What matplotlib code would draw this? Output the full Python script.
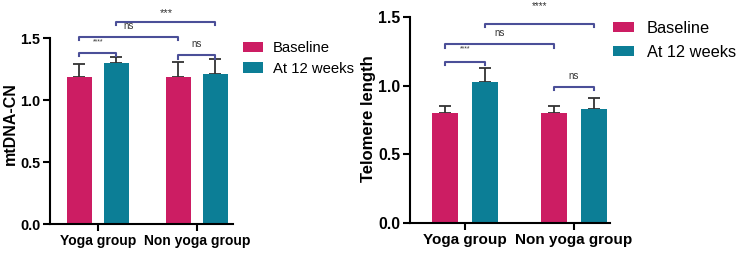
import matplotlib.pyplot as plt
import numpy as np

plt.rcParams['font.family'] = ['Liberation Sans', 'DejaVu Sans']

groups = ['Yoga group', 'Non yoga group']
series = ['Baseline', 'At 12 weeks']
colors = ['#CC1D63', '#0C7E96']

# mtDNA-CN
mt_base = [1.19, 1.19]
mt_base_err = [0.10, 0.12]
mt_w12 = [1.30, 1.21]
mt_w12_err = [0.05, 0.12]

# Telomere length
tl_base = [0.80, 0.80]
tl_base_err = [0.05, 0.05]
tl_w12 = [1.03, 0.83]
tl_w12_err = [0.10, 0.08]

# brackets: (bar i, bar j, height, label, label size, label offset)
# bars 0..3 = Yoga-base, Yoga-12w, Non-base, Non-12w
mt_brackets = [(0, 1, 1.38, '****', 5, 0.09), (0, 2, 1.51, 'ns', 7, 0.09),
               (1, 3, 1.63, '***', 8, 0.07), (2, 3, 1.36, 'ns', 7, 0.09)]
tl_brackets = [(0, 1, 1.175, '****', 5, 0.09), (0, 2, 1.30, 'ns', 7, 0.08),
               (1, 3, 1.45, '****', 7, 0.13), (2, 3, 0.99, 'ns', 7, 0.08)]

bracket_col = '#4B4F98'


def draw_panel(ax, base, base_err, w12, w12_err, brackets, ylabel, off, width, xlim,
               xtfs, ytfs, ylsize, ylpos):
    x = np.arange(len(groups))
    ax.bar(x - off, base, width, color=colors[0], label=series[0], zorder=2)
    ax.bar(x + off, w12, width, color=colors[1], label=series[1], zorder=2)
    ax.errorbar(x - off, base, yerr=[np.zeros(2), base_err], fmt='none', ecolor='#333333',
                elinewidth=1.3, capsize=4.5, capthick=1.3, zorder=1)
    ax.errorbar(x + off, w12, yerr=[np.zeros(2), w12_err], fmt='none', ecolor='#333333',
                elinewidth=1.3, capsize=4.5, capthick=1.3, zorder=1)
    pos = [x[0] - off, x[0] + off, x[1] - off, x[1] + off]
    for i, j, h, lab, fs, dy in brackets:
        ax.plot([pos[i], pos[i], pos[j], pos[j]], [h - 0.025, h, h, h - 0.025],
                color=bracket_col, lw=1.5, clip_on=False)
        ax.text((pos[i] + pos[j]) / 2, h + dy, lab, ha='center', va='center',
                fontsize=fs, color='#333333')
    ax.set_ylim(0, 1.5)
    ax.set_xlim(*xlim)
    ax.set_yticks([0, 0.5, 1.0, 1.5])
    ax.set_yticklabels(['0.0', '0.5', '1.0', '1.5'], fontweight='bold', fontsize=ytfs)
    ax.set_xticks(x)
    ax.set_xticklabels(groups, fontweight='bold', fontsize=xtfs)
    ax.set_ylabel(ylabel, fontweight='bold', fontsize=ylsize)
    ax.yaxis.set_label_coords(*ylpos)
    for s in ['top', 'right']:
        ax.spines[s].set_visible(False)
    for s in ['left', 'bottom']:
        ax.spines[s].set_linewidth(1.5)
    ax.tick_params(width=1.5, length=5, pad=2)


fig = plt.figure(figsize=(7.4, 2.54), dpi=100)
ax1 = fig.add_axes([0.0676, 0.118, 0.247, 0.732])
ax2 = fig.add_axes([0.554, 0.122, 0.270, 0.811])

draw_panel(ax1, mt_base, mt_base_err, mt_w12, mt_w12_err, mt_brackets, 'mtDNA-CN',
           0.187, 0.25, (-0.485, 1.364), 10, 10.4, 11.5, (-0.175, 0.54))
draw_panel(ax2, tl_base, tl_base_err, tl_w12, tl_w12_err, tl_brackets, 'Telomere length',
           0.185, 0.24, (-0.505, 1.33), 11, 11.4, 12, (-0.17, 0.505))

ax1.legend(bbox_to_anchor=(243 / 740, 1 - 41 / 254), bbox_transform=fig.transFigure,
           loc='upper left', frameon=False, fontsize=10.7, handlelength=1.35,
           handleheight=0.67, handletextpad=0.67, borderpad=0, borderaxespad=0,
           labelspacing=0.45)
ax2.legend(bbox_to_anchor=(613 / 740, 1 - 21 / 254), bbox_transform=fig.transFigure,
           loc='upper left', frameon=False, fontsize=11.8, handlelength=1.28,
           handleheight=0.6, handletextpad=0.8, borderpad=0, borderaxespad=0,
           labelspacing=0.55)

fig.savefig('out.png', dpi=100)
